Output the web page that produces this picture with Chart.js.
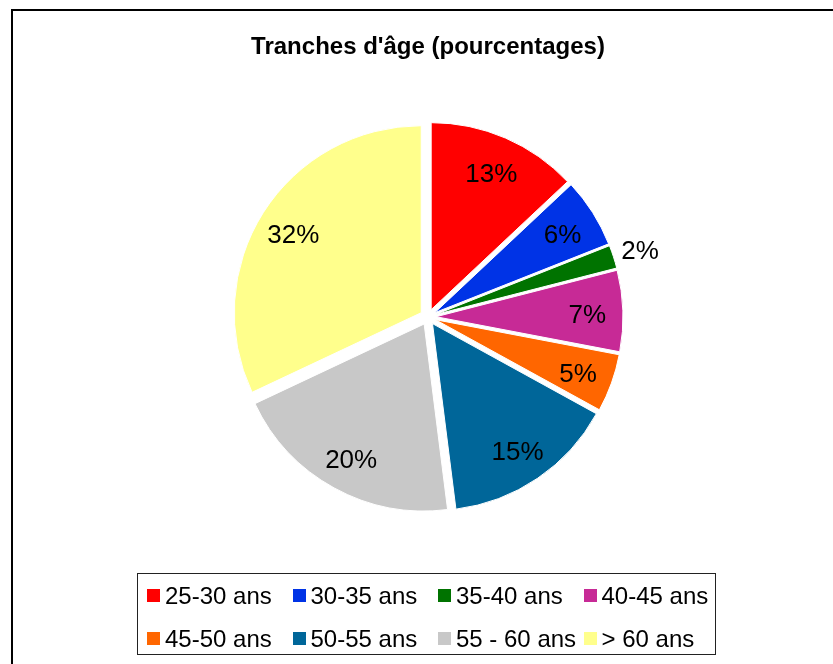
<!DOCTYPE html>
<html>
<head>
<meta charset="utf-8">
<script src="https://cdn.jsdelivr.net/npm/chart.js@4"></script>
<style>
    body { margin: 0; background: #fff; font-family: "Liberation Sans", Arial, sans-serif; }
    #frame { position: absolute; left: 11px; top: 9px; width: 900px; height: 800px; border: 2px solid #000; }
    #wrap { position: absolute; left: 0; top: 0; width: 833px; height: 664px; }
    #legend { position: absolute; left: 137px; top: 573px; width: 577px; height: 80px; border: 1.5px solid #222;
              box-sizing: content-box; }
    .item { position: absolute; font-size: 24px; line-height: 24px; color: #000; white-space: nowrap; }
    .item span.sw { position: absolute; left: 0; top: 5px; width: 13px; height: 13px; }
    .item span.tx { position: absolute; left: 18px; top: 0; }
</style>
</head>
<body>
<div id="frame"></div>
<div id="wrap"><canvas id="pieChart" width="833" height="664"></canvas></div>
<div id="legend"></div>
<script>
var title = "Tranches d'âge (pourcentages)";
var labels = ['25-30 ans', '30-35 ans', '35-40 ans', '40-45 ans', '45-50 ans', '50-55 ans', '55 - 60 ans', '> 60 ans'];
var values = [13, 6, 2, 7, 5, 15, 20, 32];
var colors = ['#ff0000', '#0033e6', '#007300', '#c72a96', '#ff6600', '#006699', '#c8c8c8', '#ffff8c'];
var explode = 8;

// legend, two rows of four in a framed box
var legend = document.getElementById('legend');
labels.forEach(function (lab, i) {
    var el = document.createElement('div');
    el.className = 'item';
    el.style.left = (9 + (i % 4) * 145.5) + 'px';
    el.style.top = (i < 4 ? 10 : 53) + 'px';
    el.innerHTML = '<span class="sw" style="background:' + colors[i] + '"></span><span class="tx"></span>';
    el.querySelector('.tx').textContent = lab;
    legend.appendChild(el);
});

var pieExtras = {
    id: 'pieExtras',
    // pull every slice out from the centre (exploded pie)
    afterDatasetsUpdate: function (chart) {
        chart.getDatasetMeta(0).data.forEach(function (arc) {
            var mid = (arc.startAngle + arc.endAngle) / 2;
            arc.x += Math.cos(mid) * explode;
            arc.y += Math.sin(mid) * explode;
        });
    },
    afterDatasetsDraw: function (chart) {
        var ctx = chart.ctx;
        var meta = chart.getDatasetMeta(0);
        ctx.save();
        ctx.font = '26px "Liberation Sans", Arial, sans-serif';
        ctx.fillStyle = '#000';
        ctx.textAlign = 'center';
        ctx.textBaseline = 'middle';
        meta.data.forEach(function (arc, i) {
            var mid = (arc.startAngle + arc.endAngle) / 2;
            var d = values[i] < 3 ? arc.outerRadius * 1.15 : arc.outerRadius * 0.81;
            ctx.fillText(values[i] + '%', arc.x + Math.cos(mid) * d, arc.y + Math.sin(mid) * d + 4);
        });
        ctx.restore();
    },
    afterDraw: function (chart) {
        var ctx = chart.ctx;
        ctx.save();
        ctx.font = 'bold 24px "Liberation Sans", Arial, sans-serif';
        ctx.fillStyle = '#000';
        ctx.textAlign = 'center';
        ctx.textBaseline = 'middle';
        ctx.fillText(title, 428, 47);
        ctx.restore();
    }
};

var chart = new Chart(document.getElementById('pieChart').getContext('2d'), {
    type: 'pie',
    data: {
        labels: labels,
        datasets: [{
            data: values,
            backgroundColor: colors,
            borderColor: '#ffffff',
            borderWidth: 1
        }]
    },
    options: {
        responsive: false,
        animation: false,
        radius: 187,
        layout: { padding: { left: 228, right: 205, top: 117, bottom: 147 } },
        plugins: {
            legend: { display: false },
            tooltip: { enabled: false },
            title: { display: false }
        }
    },
    plugins: [pieExtras]
});
</script>
</body>
</html>
